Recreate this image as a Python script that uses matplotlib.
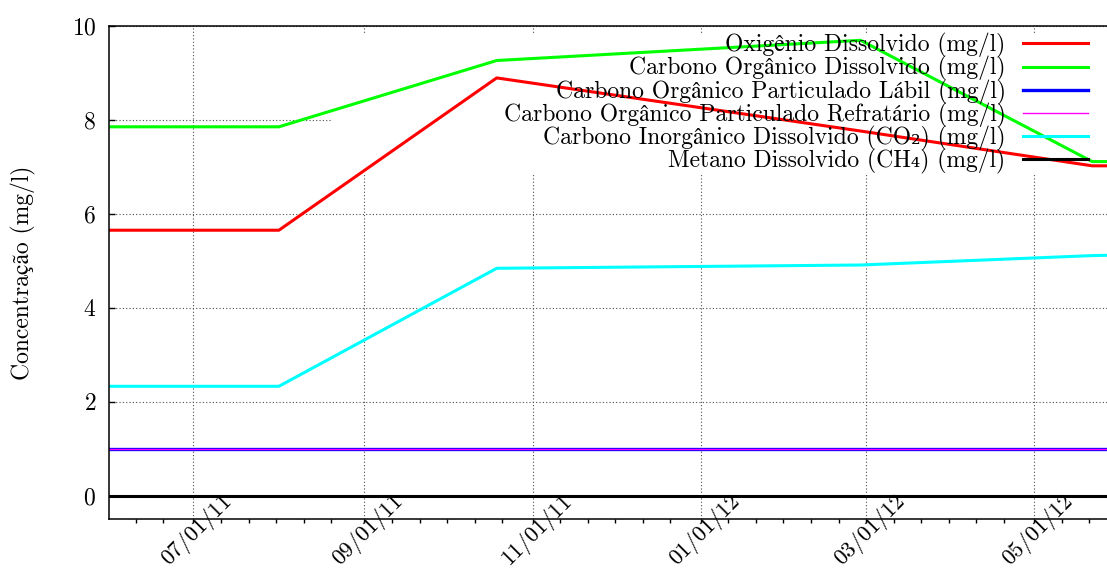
import matplotlib
matplotlib.use('Agg')
import matplotlib.pyplot as plt
import matplotlib.dates as mdates
from matplotlib.patches import Rectangle
from matplotlib.transforms import ScaledTranslation
import pandas as pd

# LaTeX-like look (gnuplot epslatex output); STIX / DejaVu fill in missing glyphs
plt.rcParams['font.family'] = ['cmr10', 'STIXGeneral', 'DejaVu Serif']
plt.rcParams['mathtext.fontset'] = 'cm'
plt.rcParams['axes.formatter.use_mathtext'] = True

# Data (mg/l)
dates = pd.to_datetime(['2011-05-31', '2011-08-01', '2011-10-19',
                        '2012-02-28', '2012-05-22', '2012-05-31'])
od = [5.65, 5.65, 8.89, 7.76, 7.02, 7.02]        # oxigenio dissolvido
cod = [7.85, 7.85, 9.26, 9.69, 7.11, 7.11]       # carbono organico dissolvido
copl = [1.00, 1.00, 1.00, 1.00, 1.00, 1.00]      # particulado labil
copr = [1.00, 1.00, 1.00, 1.00, 1.00, 1.00]      # particulado refratario
cid = [2.33, 2.33, 4.84, 4.91, 5.11, 5.12]       # CO2
ch4 = [0.0, 0.0, 0.0, 0.0, 0.0, 0.0]             # metano

series = [od, cod, copl, copr, cid, ch4]
labels = ['Oxigênio Dissolvido (mg/l)',
          'Carbono Orgânico Dissolvido (mg/l)',
          'Carbono Orgânico Particulado Lábil (mg/l)',
          'Carbono Orgânico Particulado Refratário (mg/l)',
          'Carbono Inorgânico Dissolvido (CO₂) (mg/l)',
          'Metano Dissolvido (CH₄) (mg/l)']
colors = ['#ff0000', '#00ff00', '#0000ff', '#ff00ff', '#00ffff', '#000000']
widths = [2.2, 2.2, 2.4, 1.0, 2.2, 2.2]

tick_dates = pd.to_datetime(['2011-07-01', '2011-09-01', '2011-11-01',
                             '2012-01-01', '2012-03-01', '2012-05-01'])
tick_labels = ['07/01/11', '09/01/11', '11/01/11', '01/01/12', '03/01/12', '05/01/12']
y_ticks = [0, 2, 4, 6, 8, 10]
FS = 17

fig = plt.figure(figsize=(11.07, 5.68), dpi=100)
ax = fig.add_axes([0.0987, 0.0857, 0.9013, 0.8690])

for vals, lab, col, lw in zip(series, labels, colors, widths):
    ax.plot(dates, vals, color=col, lw=lw, label=lab, zorder=2)

# major ticks every two months, minor ticks every 10 days after each major
ax.set_xticks(mdates.date2num(tick_dates))
ax.set_xticklabels(tick_labels, rotation=45, ha='center', va='center',
                   rotation_mode='anchor')
minor = []
for m in pd.date_range('2011-05-01', '2012-05-01', freq='2MS'):
    for d in range(10, 60, 10):
        minor.append(m + pd.Timedelta(days=d))
ax.set_xticks(mdates.date2num(pd.DatetimeIndex(minor)), minor=True)
ax.set_yticks(y_ticks)

# limits after the ticks, otherwise set_xticks widens them
ax.set_xlim(pd.Timestamp('2011-05-31 11:00'), pd.Timestamp('2012-05-27 09:00'))
ax.set_ylim(-0.5, 10)

ax.tick_params(axis='x', which='major', direction='out', length=3, width=1,
               pad=4.5, labelsize=16.3, top=False)
ax.tick_params(axis='x', which='minor', direction='out', length=3, width=1,
               top=False)
ax.tick_params(axis='y', direction='in', length=4.5, width=1, pad=9.4,
               labelsize=FS, right=False)
for lbl in ax.get_xticklabels():
    lbl.set_transform(lbl.get_transform() + ScaledTranslation(0.04, 0, fig.dpi_scale_trans))

ax.spines['right'].set_visible(False)
for s in ['left', 'bottom', 'top']:
    ax.spines[s].set_linewidth(1.1)

ax.set_axisbelow(True)
ax.grid(True, which='major', linestyle=(0, (1, 2)), linewidth=0.8, color='0.3')

# opaque key area hides the grid behind it
ax.add_patch(Rectangle((0.2224, 0.6975), 0.7776, 0.2875, transform=ax.transAxes,
                       facecolor='white', edgecolor='none', zorder=1))

ax.set_ylabel('Concentração (mg/l)', fontsize=FS, va='center')
ax.yaxis.set_label_coords(-0.0865, 0.5)

leg = ax.legend(loc='upper right', bbox_to_anchor=(0.9805, 0.985), markerfirst=False,
                frameon=False, fontsize=FS, handlelength=2.75, handletextpad=0.72,
                labelspacing=-0.08, borderpad=0, borderaxespad=0)
leg.set_zorder(3)

fig.savefig('out.png', dpi=100)
